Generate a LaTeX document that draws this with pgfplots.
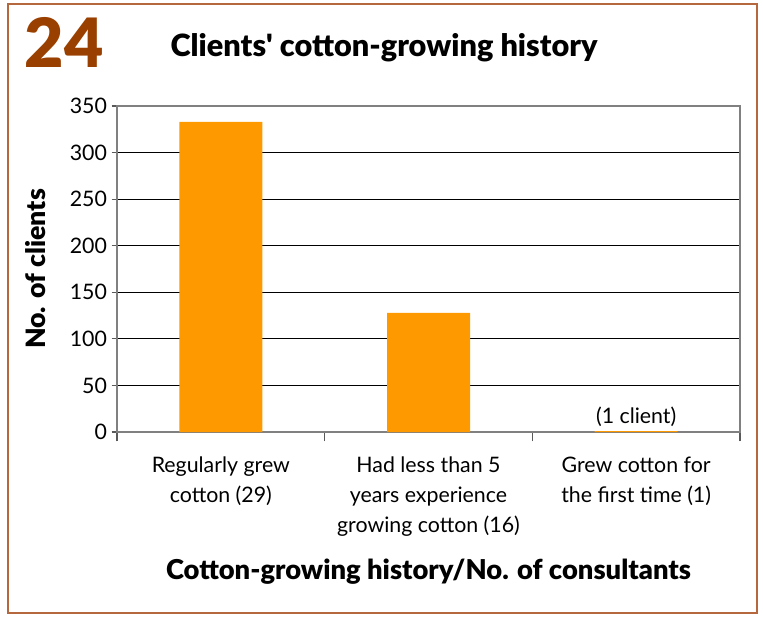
\documentclass[border=0pt]{standalone}
\usepackage{pgfplots}
\pgfplotsset{compat=1.18}
\usepackage{fontspec}
\setmainfont{Lato}[BoldFont={Lato Black}]
\definecolor{framec}{HTML}{B5683E}
\definecolor{numc}{HTML}{993F00}
\definecolor{barc}{HTML}{FF9900}
\begin{document}
\begin{tikzpicture}[x=1pt,y=1pt]
\useasboundingbox (0,0) rectangle (572.25,464.25);
\draw[framec, line width=1.5pt] (6,4.5) rectangle (567.75,461.25);
\node[font=\fontsize{51}{51}\selectfont\bfseries, text=numc] at (48,432.5) {24};
\node[font=\fontsize{23}{25}\selectfont\bfseries] at (288,428.25) {Clients\textquotesingle{} cotton-growing history};
\begin{axis}[
  at={(87.75pt,140.25pt)}, anchor=south west,
  scale only axis, width=467.25pt, height=244.5pt,
  xmin=-0.5, xmax=2.5, ymin=0, ymax=350,
  ytick={0,50,...,350},
  xtick={0,1,2},
  xtick pos=bottom, ytick pos=left,
  xticklabels={{Regularly grew\\cotton (29)},{Had less than 5\\years experience\\growing cotton (16)},{Grew cotton for\\the first time (1)}},
  xticklabel style={align=center, font=\fontsize{16}{22.5}\selectfont, anchor=north, yshift=-11pt},
  yticklabel style={font=\fontsize{16}{18}\selectfont},
  /pgf/number format/assume math mode=true,
  major x tick style={draw=none},
  minor xtick={-0.5,0.5,1.5,2.5},
  minor tick length=7pt,
  major tick length=4pt,
  tick align=outside,
  tick style={gray!70!black, line width=0.8pt},
  ymajorgrids, grid style={black, line width=0.6pt},
  axis line style={gray, line width=1.2pt},
  ylabel={No. of clients},
  ylabel style={font=\fontsize{20}{22}\selectfont\bfseries, yshift=11pt},
  xlabel={Cotton-growing history/No. of consultants},
  xlabel style={font=\fontsize{20.5}{22}\selectfont\bfseries, yshift=-10pt},
  clip=false,
]
\addplot[ybar, bar width=62.25pt, fill=barc, draw=none] coordinates {(0,333) (1,128) (2,1)};
\node[anchor=south, font=\fontsize{16}{18}\selectfont] at (axis cs:2,1) {(1 client)};
\end{axis}
\end{tikzpicture}
\end{document}
